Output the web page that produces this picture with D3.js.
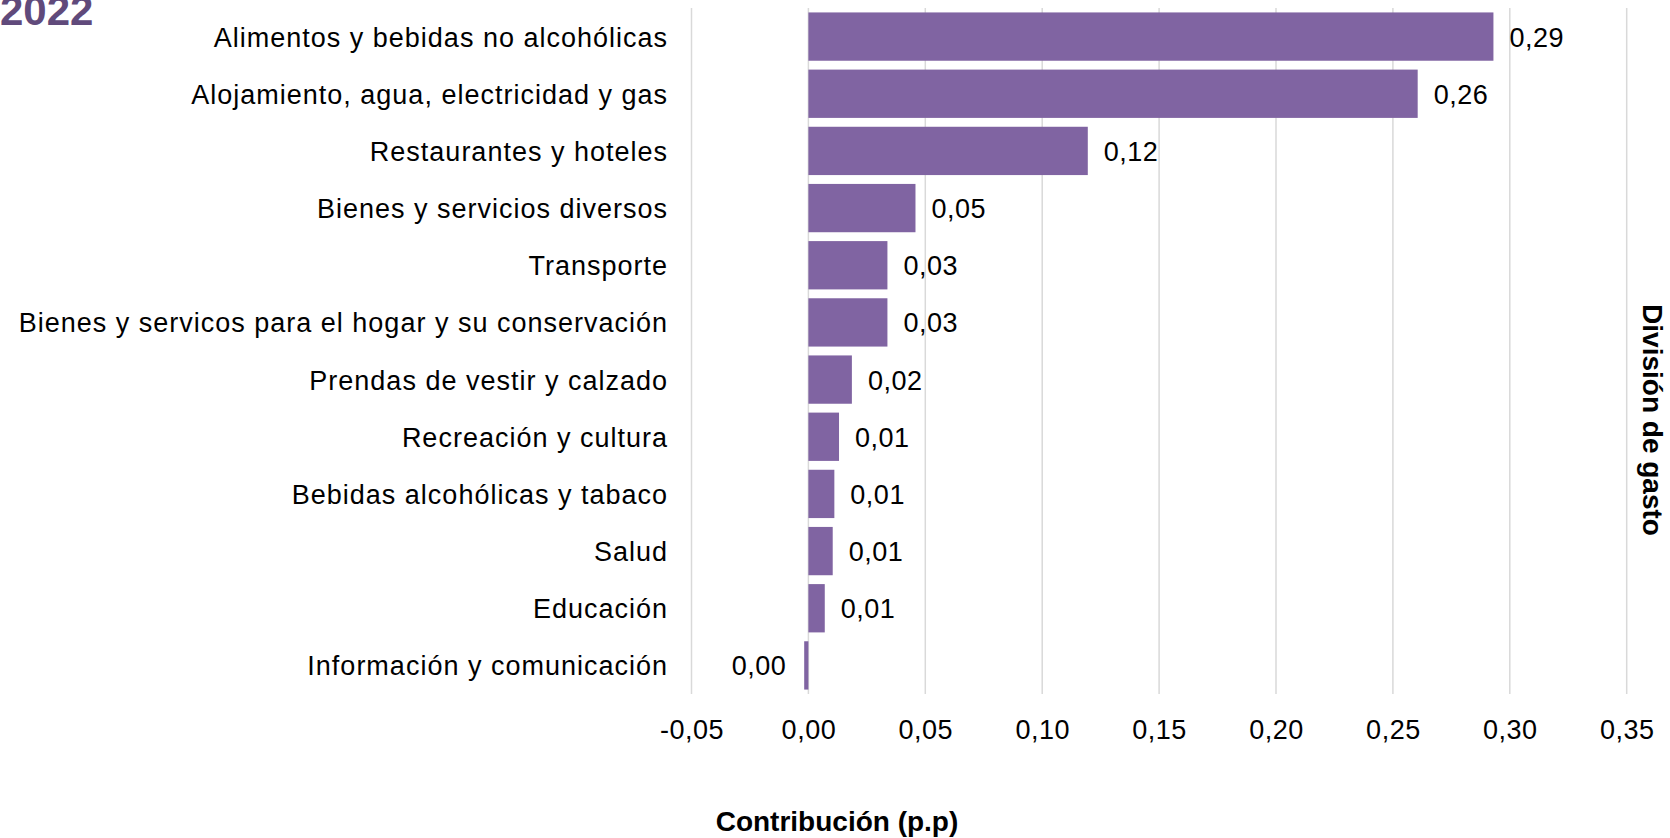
<!DOCTYPE html>
<html>
<head>
<meta charset="utf-8">
<script src="https://cdn.jsdelivr.net/npm/d3@7"></script>
<style>
  body { margin: 0; background: #fff; }
  text { font-family: "Liberation Sans", Arial, sans-serif; }
</style>
</head>
<body>
<div class="chart"></div>
<script>
const categories = [
  'Alimentos y bebidas no alcohólicas',
  'Alojamiento, agua, electricidad y gas',
  'Restaurantes y hoteles',
  'Bienes y servicios diversos',
  'Transporte',
  'Bienes y servicos para el hogar y su conservación',
  'Prendas de vestir y calzado',
  'Recreación y cultura',
  'Bebidas alcohólicas y tabaco',
  'Salud',
  'Educación',
  'Información y comunicación'
]
const values = [0.293, 0.2606, 0.1195, 0.0458, 0.0338, 0.0338, 0.0186, 0.0131, 0.0111, 0.0104, 0.0070, -0.0018]
const xTicks = [-0.05, 0, 0.05, 0.10, 0.15, 0.20, 0.25, 0.30, 0.35]
const yearLabel = '2022'
const xTitle = 'Contribución (p.p)'
const yTitle = 'División de gasto'

const width = 1670
const height = 838
const fmt = v => {
  let s = Math.abs(v).toFixed(2).replace('.', ',')
  return (v < 0 && Math.abs(v) >= 0.005) ? '-' + s : s
}

var svg = d3.select('.chart').append('svg').attr('width', width).attr('height', height)

var x = d3.scaleLinear().domain([-0.05, 0.35]).range([691.5, 1626.7])
var y = d3.scaleBand().domain(categories).range([8, 694]).paddingInner(0.155).paddingOuter(0.0775)

// vertical gridlines
svg.append('g').selectAll('line').data(xTicks).join('line')
  .attr('x1', d => x(d)).attr('x2', d => x(d))
  .attr('y1', 8).attr('y2', 694)
  .attr('stroke', '#d9d9d9').attr('stroke-width', 1.5)

// x axis labels (no domain line)
var xaxis = d3.axisBottom(x).tickValues(xTicks).tickSize(0).tickPadding(0).tickFormat(fmt)
var gx = svg.append('g').attr('transform', 'translate(0,739)').call(xaxis)
gx.select('.domain').remove()
gx.selectAll('text').attr('dy', 0).attr('y', 0)
  .attr('font-size', 27).attr('letter-spacing', 0.5)
  .attr('font-family', '"Liberation Sans", Arial, sans-serif').attr('fill', '#000')

// bars
svg.append('g').selectAll('rect').data(values).join('rect')
  .attr('x', d => x(Math.min(0, d)))
  .attr('width', d => Math.abs(x(d) - x(0)))
  .attr('y', (d, i) => y(categories[i]))
  .attr('height', y.bandwidth())
  .attr('fill', '#8064a2')

// category labels
svg.append('g').selectAll('text').data(categories).join('text')
  .attr('x', 668)
  .attr('y', d => y(d) + y.bandwidth() / 2 + 10)
  .attr('text-anchor', 'end')
  .attr('font-size', 27)
  .attr('letter-spacing', 1.0)
  .attr('fill', '#000')
  .text(d => d)

// value labels
svg.append('g').selectAll('text').data(values).join('text')
  .attr('x', d => d < 0 ? x(d) - 18 : x(d) + 16)
  .attr('y', (d, i) => y(categories[i]) + y.bandwidth() / 2 + 10)
  .attr('text-anchor', d => d < 0 ? 'end' : 'start')
  .attr('font-size', 27)
  .attr('letter-spacing', 0.5)
  .attr('fill', '#000')
  .text(d => fmt(d))

// titles
svg.append('text')
  .attr('x', 837).attr('y', 831)
  .attr('text-anchor', 'middle')
  .attr('font-size', 28).attr('font-weight', 'bold')
  .text(xTitle)

svg.append('text')
  .attr('transform', 'translate(1643,420) rotate(90)')
  .attr('text-anchor', 'middle')
  .attr('font-size', 28).attr('font-weight', 'bold')
  .text(yTitle)

svg.append('text')
  .attr('x', 0).attr('y', 25)
  .attr('font-size', 42).attr('font-weight', 'bold')
  .attr('fill', '#604a7b')
  .text(yearLabel)
</script>
</body>
</html>
